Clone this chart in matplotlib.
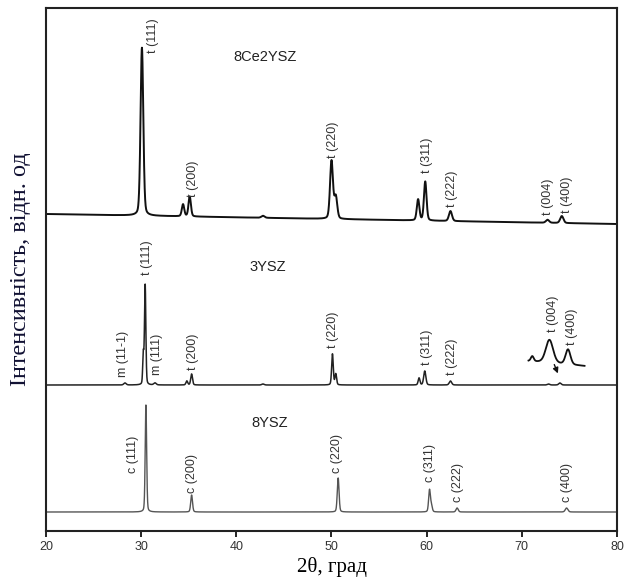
import numpy as np
import matplotlib
matplotlib.use("Agg")
import matplotlib.pyplot as plt

# 8Ce2YSZ: peak positions (2theta), heights, widths (FWHM)
ce_pos = [30.08, 34.4, 35.1, 42.8, 50.0, 50.45, 59.1, 59.85, 62.5, 72.7, 74.2]
ce_h = [168, 12, 20, 2, 58, 22, 21, 39, 10, 3, 7]
ce_w = [0.34, 0.3, 0.3, 0.4, 0.36, 0.36, 0.32, 0.32, 0.38, 0.4, 0.4]
ce_base = [317, 307]

# 3YSZ
y3_pos = [28.3, 30.22, 30.42, 31.45, 34.8, 35.3, 42.8, 50.1, 50.45, 59.2, 59.8, 62.5, 72.8, 74.0]
y3_h = [2, 30, 100, 2, 4, 11, 1, 31, 11, 7, 14, 4, 1, 2]
y3_w = [0.3, 0.14, 0.17, 0.3, 0.22, 0.22, 0.3, 0.2, 0.2, 0.22, 0.27, 0.3, 0.3, 0.3]
y3_base = 146

# 3YSZ zoomed inset (70.7-76.6)
ins_pos = [71.1, 72.9, 74.85]
ins_h = [5, 23, 15]
ins_w = [0.35, 0.9, 0.6]
ins_range = [70.7, 76.6]
ins_base = [170, 165]

# 8YSZ
y8_pos = [30.5, 35.3, 50.7, 60.3, 60.5, 63.2, 74.7]
y8_h = [107, 17, 34, 22, 6, 4, 4]
y8_w = [0.18, 0.22, 0.22, 0.22, 0.22, 0.27, 0.32]
y8_base = 19

# labels: (text, 2theta, bottom)
ce_labels = [("t (111)", 31.24, 478), ("t (200)", 35.45, 334), ("t (220)", 50.16, 373),
             ("t (311)", 60.03, 358), ("t (222)", 62.66, 324), ("t (004)", 72.75, 316),
             ("t (400)", 74.74, 318)]
y3_labels = [("m (11-1)", 28.09, 154), ("t (111)", 30.61, 256), ("m (111)", 31.66, 156),
             ("t (200)", 35.45, 161), ("t (220)", 50.16, 183), ("t (311)", 60.03, 166),
             ("t (222)", 62.66, 156), ("t (004)", 73.27, 199), ("t (400)", 75.27, 186)]
y8_labels = [("c (111)", 29.14, 58), ("c (200)", 35.34, 38), ("c (220)", 50.58, 58),
             ("c (311)", 60.35, 49), ("c (222)", 63.29, 29), ("c (400)", 74.74, 29)]
names = [("8Ce2YSZ", 43.0, 474), ("3YSZ", 43.3, 264), ("8YSZ", 43.5, 108)]


def profile(x, pos, h, w, eta=0.25):
    y = np.zeros_like(x)
    for p, a, f in zip(pos, h, w):
        g = np.exp(-4 * np.log(2) * (x - p) ** 2 / f ** 2)
        l = 1 / (1 + 4 * (x - p) ** 2 / f ** 2)
        y += a * (eta * l + (1 - eta) * g)
    return y


x = np.arange(20, 80.001, 0.01)
ce = np.interp(x, [20, 80], ce_base) + profile(x, ce_pos, ce_h, ce_w)
y3 = y3_base + profile(x, y3_pos, y3_h, y3_w)
y8 = y8_base + profile(x, y8_pos, y8_h, y8_w)
xi = np.arange(ins_range[0], ins_range[1], 0.01)
yi = np.interp(xi, ins_range, ins_base) + profile(xi, ins_pos, ins_h, ins_w, eta=0.2)

fig = plt.figure(figsize=(6.24, 5.83), dpi=100)
ax = fig.add_axes([46 / 624, 52 / 583, 571 / 624, 523 / 583])

ax.plot(x, ce, color="#111111", lw=1.4)
ax.plot(x, y3, color="#222222", lw=1.1)
ax.plot(x, y8, color="#555555", lw=1.0)
ax.plot(xi, yi, color="#111111", lw=1.3)
ax.annotate("", xy=(73.9, 155), xytext=(73.3, 169),
            arrowprops=dict(arrowstyle="-|>", color="#111111", lw=1.0, mutation_scale=8))

lab_font = dict(family=["Liberation Sans", "DejaVu Sans"], fontsize=9, color="#333333")
for group in (ce_labels, y3_labels, y8_labels):
    for t, xx, yy in group:
        ax.text(xx, yy, t, rotation=90, ha="center", va="bottom", **lab_font)
for t, xx, yy in names:
    ax.text(xx, yy, t, ha="center", va="center", family=["Liberation Sans", "DejaVu Sans"],
            fontsize=10.5, color="#222222")

ax.set_xlim(20, 80)
ax.set_ylim(0, 523)
ax.set_xticks(range(20, 81, 10))
ax.set_yticks([])
ax.tick_params(axis="x", direction="out", length=4, width=1.2, labelsize=9, pad=3)
for lbl in ax.get_xticklabels():
    lbl.set_family(["Liberation Sans", "DejaVu Sans"])
    lbl.set_color("#333333")
for s in ax.spines.values():
    s.set_linewidth(1.5)
    s.set_color("#222222")

ax.set_xlabel("2θ, град", family=["Liberation Serif", "DejaVu Serif"], fontsize=15, labelpad=3)
ax.set_ylabel("Інтенсивність, відн. од", family=["Liberation Serif", "DejaVu Serif"],
              fontsize=17.5, color="#111133", labelpad=11)

fig.savefig("out.png", dpi=100)
